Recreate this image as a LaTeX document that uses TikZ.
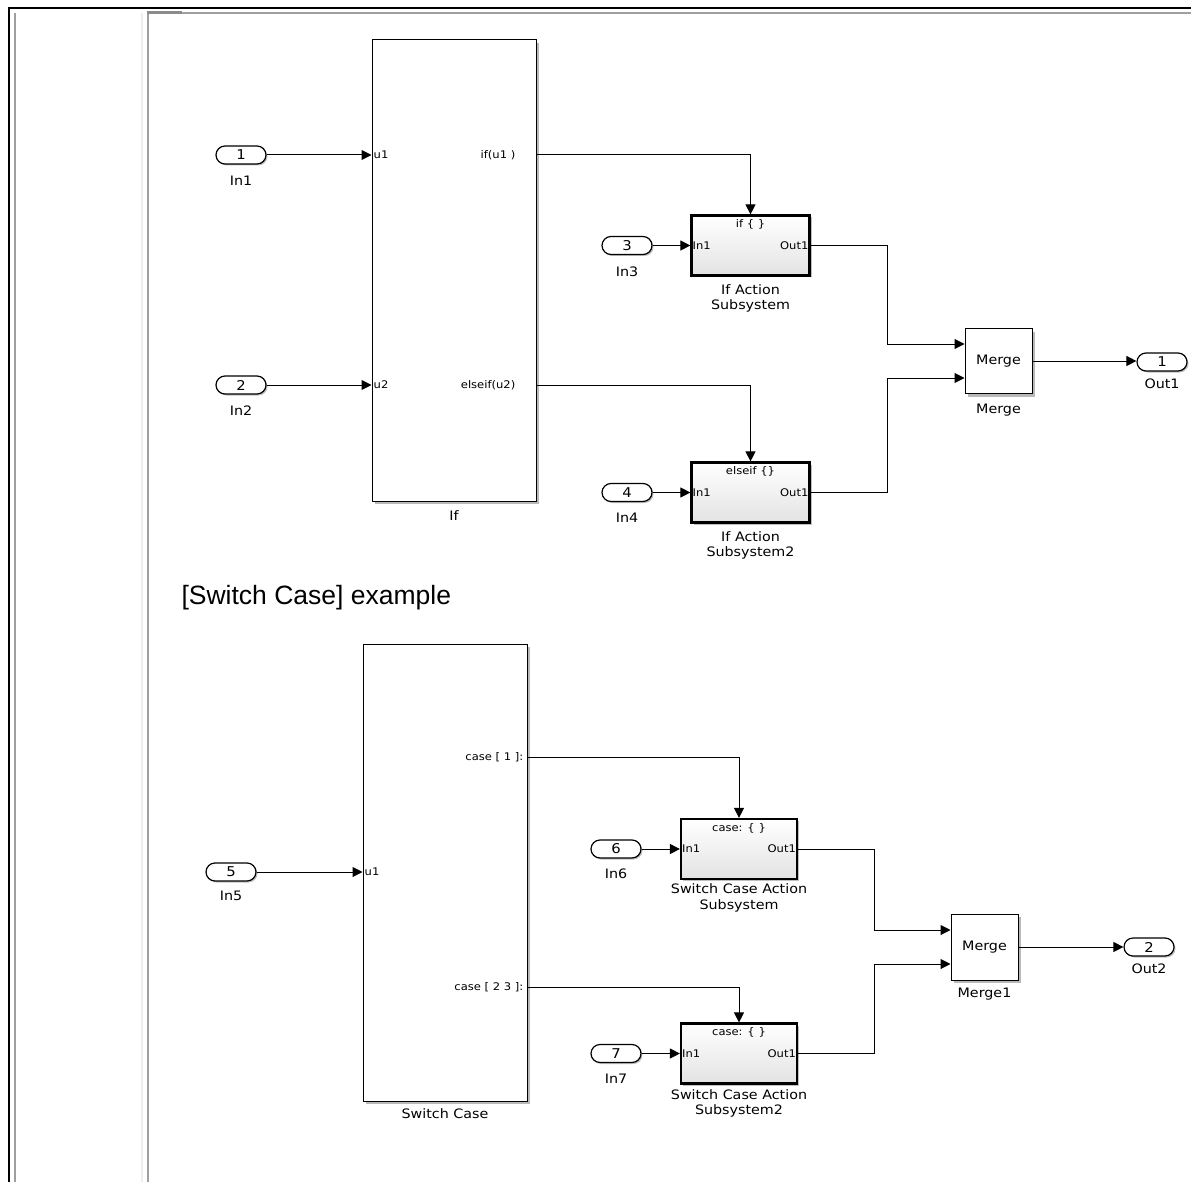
\documentclass[tikz,border=0pt]{standalone}
\usepackage{fontspec}
\setmainfont[FakeStretch=1.1]{DejaVu Sans}
\newfontfamily\headfont{Liberation Sans}
\usetikzlibrary{arrows.meta,shadows,calc}

\begin{document}
\begin{tikzpicture}[x=1pt,y=-1pt,
    lbl/.style={font=\fontsize{13}{15.5}\selectfont, align=center},
    prt/.style={font=\fontsize{10.5}{12}\selectfont, inner sep=2pt},
    pill/.style={draw, line width=1.2pt, rounded corners=9pt, minimum width=50, minimum height=18,
        inner sep=0pt, fill=white, font=\fontsize{13.5}{15}\selectfont,
        drop shadow={shadow xshift=1.5pt, shadow yshift=-1.5pt, fill=gray!50, opacity=1}},
    bigblk/.style={draw, line width=1pt, fill=white, minimum width=164,
        drop shadow={shadow xshift=3pt, shadow yshift=-3pt, fill=gray!55, opacity=1}},
    actblk/.style={draw, line width=2.2pt, top color=white, bottom color=gray!22,
        minimum width=118, minimum height=60,
        drop shadow={shadow xshift=2pt, shadow yshift=-2pt, fill=gray!50, opacity=1}},
    mrgblk/.style={bigblk, minimum width=67, minimum height=65, font=\fontsize{13}{15.5}\selectfont},
    wire/.style={line width=1pt, -{Triangle[length=10pt,width=10pt]}}]

    \useasboundingbox (0,0) rectangle (1191,1182);

    % Draw page frame
    \draw[line width=2.5pt] (9,1182) -- (9,8) -- (1191,8);
    \draw[gray!75, line width=2pt] (15,13) -- (15,1182);
    \draw[black!7, line width=2.5pt] (142,13) -- (142,1182);
    \draw[gray!75, line width=2pt] (148,1182) -- (148,13) -- (1191,13);
    \draw[gray!90, line width=2.5pt] (147,12.5) -- (182,12.5);

    % Draw inports of the If example
    \node[pill] (in1) at (241,155) {1};
    \node[lbl, below=8pt] (lin1) at (in1.south) {In1};
    \node[pill] (in2) at (241,385) {2};
    \node[lbl, below=8pt] (lin2) at (in2.south) {In2};
    \node[pill] (in3) at (627,245.5) {3};
    \node[lbl, below=8pt] (lin3) at (in3.south) {In3};
    \node[pill] (in4) at (627,492.5) {4};
    \node[lbl, below=7pt] (lin4) at (in4.south) {In4};

    % Draw If block
    \node[bigblk, minimum height=461] (ifblk) at (454,270.5) {};
    \node[lbl, below=6pt] (lifblk) at (ifblk.south) {If};
    \node[prt, anchor=west] (ifu1) at (ifblk.west |- in1) {u1};
    \node[prt, anchor=west] (ifu2) at (ifblk.west |- in2) {u2};
    \node[prt, anchor=east, xshift=-19pt] (ifo1) at (ifblk.east |- in1) {if(u1 )};
    \node[prt, anchor=east, xshift=-19pt] (ifo2) at (ifblk.east |- in2) {elseif(u2)};

    % Draw action subsystems
    \node[actblk] (act1) at (750.5,245.5) {};
    \node[lbl, below=4pt] (lact1) at (act1.south) {If Action\\Subsystem};
    \node[prt, below=3pt] (tact1) at (act1.north) {if \{ \}};
    \node[prt, anchor=west] (iact1) at (act1.west) {In1};
    \node[prt, anchor=east] (oact1) at (act1.east) {Out1};
    \node[actblk] (act2) at (750.5,492.5) {};
    \node[lbl, below=4pt] (lact2) at (act2.south) {If Action\\Subsystem2};
    \node[prt, below=3pt] (tact2) at (act2.north) {elseif \{\}};
    \node[prt, anchor=west] (iact2) at (act2.west) {In1};
    \node[prt, anchor=east] (oact2) at (act2.east) {Out1};

    % Draw Merge and outport
    \node[mrgblk] (merge) at (998.5,361) {Merge};
    \node[lbl, below=6pt] (lmerge) at (merge.south) {Merge};
    \node[pill] (out1) at (1162,362) {1};
    \node[lbl, below=4pt] (lout1) at (out1.south) {Out1};
    \coordinate (ma) at ($(merge.west)+(0,-17)$);
    \coordinate (mb) at ($(merge.west)+(0,17)$);

    % Draw signals of the If example
    \draw[wire] (in1) -- (in1 -| ifblk.west);
    \draw[wire] (in2) -- (in2 -| ifblk.west);
    \draw[wire] (in1 -| ifblk.east) -| (act1.north);
    \draw[wire] (in2 -| ifblk.east) -| (act2.north);
    \draw[wire] (in3) -- (in3 -| act1.west);
    \draw[wire] (in4) -- (in4 -| act2.west);
    \draw[wire] (act1.east) -| ($(act1.east)!0.5!(ma)$) |- (ma);
    \draw[wire] (act2.east) -| ($(act2.east)!0.5!(mb)$) |- (mb);
    \draw[wire] (merge.east) -- (merge.east -| out1.west);

    % Caption
    \node[anchor=west, font=\headfont\fontsize{26.5}{30}\selectfont] (cap) at (178,598) {[Switch Case] example};

    % Draw inports of the Switch Case example
    \node[pill] (in5) at (231,872) {5};
    \node[lbl, below=6pt] (lin5) at (in5.south) {In5};
    \node[pill] (in6) at (616,849) {6};
    \node[lbl, below=7pt] (lin6) at (in6.south) {In6};
    \node[pill] (in7) at (616,1053.5) {7};
    \node[lbl, below=7pt] (lin7) at (in7.south) {In7};

    % Draw Switch Case block
    \node[bigblk, minimum height=457] (swblk) at (445,872.5) {};
    \node[lbl, below=4pt] (lswblk) at (swblk.south) {Switch Case};
    \coordinate (swa) at ($(swblk.north east)+(0,114)$);
    \coordinate (swb) at ($(swblk.north east)+(0,344)$);
    \node[prt, anchor=west] (swu1) at (swblk.west |- in5) {u1};
    \node[prt, anchor=east, xshift=-2pt] (swo1) at (swa) {case [ 1 ]:};
    \node[prt, anchor=east, xshift=-2pt] (swo2) at (swb) {case [ 2 3 ]:};

    % Draw case subsystems
    \node[actblk, minimum width=116] (sw1) at (739,849) {};
    \node[lbl, below=0pt] (lsw1) at (sw1.south) {Switch Case Action\\Subsystem};
    \node[prt, below=3pt] (tsw1) at (sw1.north) {case: \{ \}};
    \node[prt, anchor=west] (isw1) at (sw1.west) {In1};
    \node[prt, anchor=east] (osw1) at (sw1.east) {Out1};
    \node[actblk, minimum width=116] (sw2) at (739,1053.5) {};
    \node[lbl, below=1pt] (lsw2) at (sw2.south) {Switch Case Action\\Subsystem2};
    \node[prt, below=3pt] (tsw2) at (sw2.north) {case: \{ \}};
    \node[prt, anchor=west] (isw2) at (sw2.west) {In1};
    \node[prt, anchor=east] (osw2) at (sw2.east) {Out1};

    % Draw Merge1 and outport
    \node[mrgblk, minimum height=66] (merge1) at (984.5,947) {Merge};
    \node[lbl, below=4pt] (lmerge1) at (merge1.south) {Merge1};
    \node[pill] (out2) at (1149,947) {2};
    \node[lbl, below=4pt] (lout2) at (out2.south) {Out2};
    \coordinate (mc) at ($(merge1.west)+(0,-17)$);
    \coordinate (md) at ($(merge1.west)+(0,17)$);

    % Draw signals of the Switch Case example
    \draw[wire] (in5) -- (in5 -| swblk.west);
    \draw[wire] (swa) -| (sw1.north);
    \draw[wire] (swb) -| (sw2.north);
    \draw[wire] (in6) -- (in6 -| sw1.west);
    \draw[wire] (in7) -- (in7 -| sw2.west);
    \draw[wire] (sw1.east) -| ($(sw1.east)!0.5!(mc)$) |- (mc);
    \draw[wire] (sw2.east) -| ($(sw2.east)!0.5!(md)$) |- (md);
    \draw[wire] (merge1.east) -- (merge1.east -| out2.west);
\end{tikzpicture}
\end{document}
